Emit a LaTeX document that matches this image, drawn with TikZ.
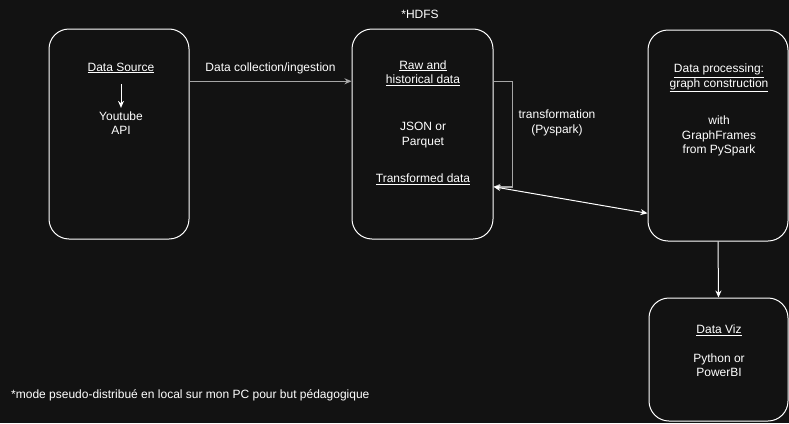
\documentclass[tikz,border=0pt]{standalone}
\usepackage{fontspec}
\setmainfont{Liberation Sans}
\usepackage{tikz}
\usetikzlibrary{arrows.meta}
\usetikzlibrary{calc}
\usetikzlibrary{positioning}
\definecolor{bgc}{HTML}{121212}
\definecolor{linec}{HTML}{A6A6A6}
\begin{document}
\begin{tikzpicture}[x=1pt, y=-1pt,
    every node/.style={text=white, align=center, font=\fontsize{12}{14.5}\selectfont},
    box/.style={draw=white, fill=bgc, line width=1pt, rounded corners=20pt, inner sep=0pt},
    greyline/.style={draw=linec, line width=1.5pt, -{Stealth[length=7pt,width=6pt]}},
    whiteline/.style={draw=white, line width=1pt, -{Stealth[length=7pt,width=6pt]}}]
      \fill[bgc] (0, 0) rectangle (789, 423);
      \path[use as bounding box] (0, 0) rectangle (789, 423);

      \node[box, minimum width=140pt, minimum height=210pt] (src) at (119, 134) {};
      \node[box, minimum width=141pt, minimum height=210pt] (hdfs) at (422.5, 134) {};
      \node[box, minimum width=140pt, minimum height=211pt] (proc) at (718, 135.5) {};
      \node[box, minimum width=139pt, minimum height=123pt] (viz) at (718.5, 359.5) {};

      \node (hdfsLabel) at (420, 14) {*HDFS};
      \node (srcTitle) at (121, 68) {\underline{Data Source}};
      \node (api) at (121, 123) {Youtube\\API};
      \node (rawTitle) at (423, 73) {\underline{Raw and}\\\underline{historical data}};
      \node (fmt) at (423, 135) {JSON or\\Parquet};
      \node (transTitle) at (423, 179) {\underline{Transformed data}};
      \node (procTitle) at (719, 78) {\underline{Data processing:}\\\underline{graph construction}};
      \node (gf) at (719, 136) {with\\GraphFrames\\from PySpark};
      \node (vizTitle) at (719, 330) {\underline{Data Viz}};
      \node (pbi) at (719, 365) {Python or\\PowerBI};
      \node[anchor=west, inner sep=0pt] (foot) at (11, 395) {*mode pseudo-distribué en local sur mon PC pour but pédagogique};

      \coordinate (srcOut) at ($(src.north east)!0.25!(src.south east)$);
      \coordinate (hdfsIn) at ($(hdfs.north west)!0.25!(hdfs.south west)$);
      \coordinate (hdfsOut) at ($(hdfs.north east)!0.25!(hdfs.south east)$);
      \coordinate (hdfsBack) at ($(hdfs.north east)!0.75!(hdfs.south east)$);
      \coordinate (procIn) at ($(proc.north west)!0.867!(proc.south west)$);
      \coordinate (apiTop) at (121, 84);

      \draw[greyline] (srcOut) -- node[above=3pt] (ingest) {Data collection/ingestion} (hdfsIn);
      \draw[greyline] (hdfsOut) -- ++(19, 0) |- (hdfsBack);
      \node (transf) at (557, 123) {transformation\\(Pyspark)};
      \draw[whiteline, {Stealth[length=7pt,width=6pt]}-{Stealth[length=7pt,width=6pt]}] (hdfsBack) -- (procIn);
      \draw[whiteline] (proc.south) -- (viz.north);
      \draw[whiteline] (apiTop) -- (api.north);
    \end{tikzpicture}
\end{document}
